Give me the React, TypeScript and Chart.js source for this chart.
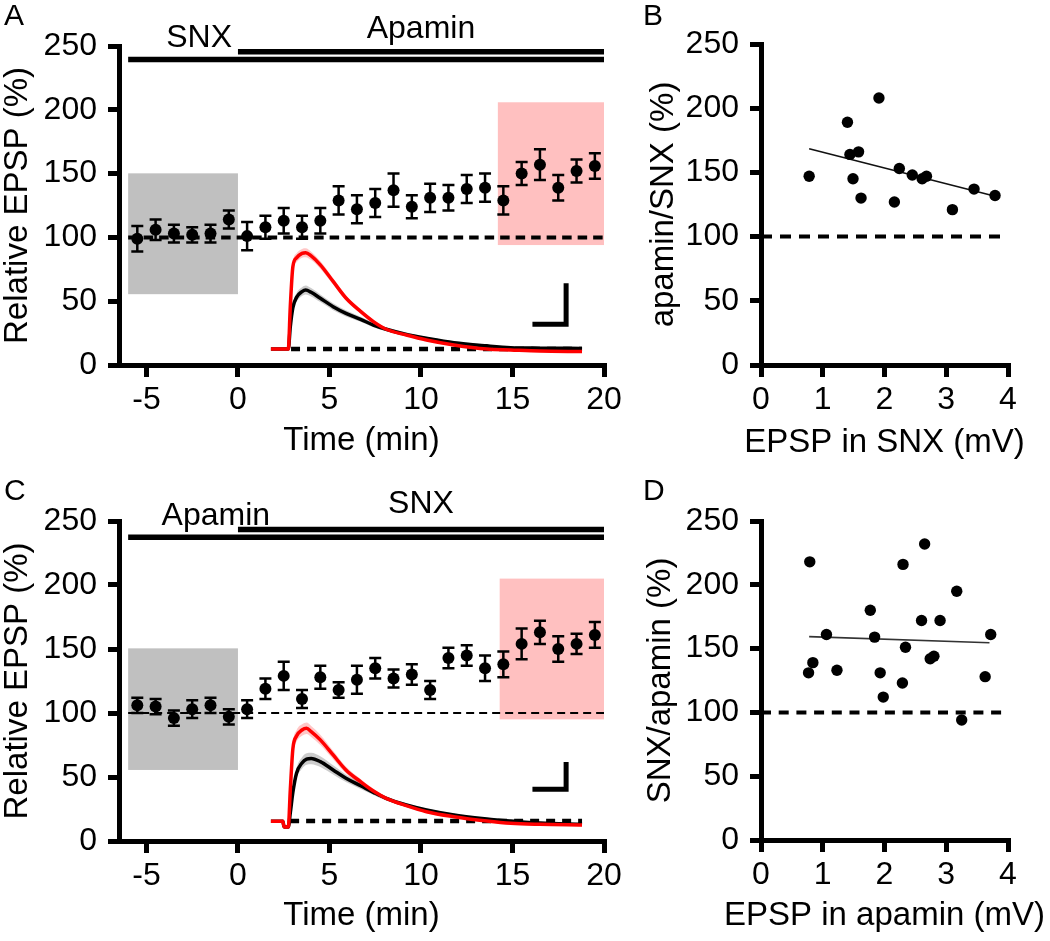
import React, { useEffect, useRef } from "react";
import { Chart, registerables } from "chart.js";

Chart.register(...registerables);

const FONT = "'Liberation Sans', Arial, Helvetica, sans-serif";

// ---------------- Time course (panels A and C) ----------------
const timeBins = [-5.5, -4.5, -3.5, -2.5, -1.5, -0.5, 0.5, 1.5, 2.5, 3.5, 4.5, 5.5, 6.5, 7.5, 8.5, 9.5, 10.5, 11.5, 12.5, 13.5, 14.5, 15.5, 16.5, 17.5, 18.5, 19.5];
const epspA = [99, 106, 103, 102, 103, 114, 101, 108, 113, 108, 113, 129, 122, 127, 137, 124, 131, 131, 138, 139, 129, 150, 157, 139, 152, 156];
const semA = [10, 8, 7, 6, 7, 7, 11, 9, 10, 9, 10, 11, 11, 11, 13, 9, 11, 10, 11, 11, 11, 9, 12, 10, 9, 10];
const epspC = [106, 105, 96, 103, 106, 97, 103, 119, 129, 111, 128, 118, 126, 135, 127, 130, 118, 143, 145, 135, 138, 154, 163, 150, 154, 161];
const semC = [6, 6, 6, 7, 6, 6, 7, 8, 11, 7, 9, 6, 11, 8, 7, 8, 7, 8, 8, 10, 10, 12, 9, 10, 8, 10];

const timeTicks = [-5, 0, 5, 10, 15, 20];
const pctTicks = [0, 50, 100, 150, 200, 250];
const mvTicks = [0, 1, 2, 3, 4];

// Inset EPSP traces (drawn in the time-course axes)
const traceTimeA = [1.8, 2.75, 2.86, 3.0, 3.2, 3.5, 3.7, 4.0, 4.5, 5.2, 5.9, 6.7, 7.4, 8.1, 9.2, 10.3, 11.8, 13.6, 14.9, 16.5, 18.8];
const traceRedA = [12.5, 12.5, 46, 77, 84, 87.5, 88, 85.5, 78.5, 65.5, 52.5, 42, 34, 28, 23.5, 19.6, 15.7, 12.5, 11.8, 11, 10.5];
const traceRedSemA = [0.5, 0.5, 2, 3, 3.5, 3.5, 3.5, 3.3, 3, 2.5, 2, 1.7, 1.5, 1.3, 1.2, 1, 1, 1, 1, 1, 1];
const traceBlackA = [12.5, 12.5, 30, 45, 53, 57.5, 58.8, 57, 52.3, 45.7, 40.5, 35.8, 31.3, 28, 24, 21, 17.5, 15, 13.6, 13.2, 13];
const traceBlackSemA = [0.5, 0.5, 2, 3, 3.5, 3.5, 3.5, 3.3, 3, 2.7, 2.4, 2, 1.8, 1.6, 1.4, 1.2, 1.1, 1, 1, 1, 1];

const traceTimeC = [1.8, 2.45, 2.52, 2.75, 2.86, 3.0, 3.2, 3.5, 3.75, 4.0, 4.5, 5.2, 5.9, 6.7, 7.4, 8.1, 9.2, 10.3, 11.8, 13.6, 14.9, 16.5, 18.8];
const traceRedC = [15.5, 15.5, 11, 11, 40, 72, 82, 86.7, 88, 85.5, 79, 67.2, 55.5, 46.3, 39, 33.3, 27.6, 22.9, 19, 15.6, 13.8, 13, 12.5];
const traceRedSemC = [0.5, 0.5, 0.5, 0.5, 2.5, 4, 4.5, 4.5, 4.5, 4.3, 4, 3.3, 2.7, 2.2, 1.8, 1.5, 1.3, 1.1, 1, 1, 1, 1, 1];
const traceBlackC = [15.5, 15.5, 11, 11, 22, 38, 53, 61, 64, 64.5, 62, 55.5, 49, 43.2, 38, 33.3, 28.1, 24.2, 20.3, 17.2, 15.6, 14, 13];
const traceBlackSemC = [0.5, 0.5, 0.5, 0.5, 2, 3, 4, 4.5, 4.5, 4.5, 4.2, 3.6, 3, 2.5, 2, 1.7, 1.4, 1.2, 1.1, 1, 1, 1, 1];

// ---------------- Scatter (panels B and D) ----------------
const epspInSnx = [0.78, 1.40, 1.44, 1.58, 1.49, 1.62, 1.91, 2.16, 2.24, 2.45, 2.61, 2.68, 3.10, 3.45, 3.79];
const apaminOverSnx = [147, 189, 164, 166, 145, 130, 208, 127, 153, 148, 145, 147, 121, 137, 132];
const fitBx = [0.78, 3.84];
const fitBy = [168.4, 130.8];

const epspInApamin = [0.79, 0.77, 0.84, 1.06, 1.23, 1.77, 1.84, 1.93, 1.98, 2.30, 2.29, 2.34, 2.65, 2.60, 2.74, 2.80, 2.90, 3.17, 3.25, 3.63, 3.72];
const snxOverApamin = [218, 131, 139, 161, 133, 180, 159, 131, 112, 216, 123, 151, 232, 172, 142, 144, 172, 195, 94, 128, 161];
const fitDx = [0.78, 3.70];
const fitDy = [159.4, 154.6];

const refLevel = 100;

type Pt = { x: number; y: number };
const toPts = (xs: number[], ys: number[]): Pt[] => xs.map((x, i) => ({ x, y: ys[i] }));
const offsetPts = (xs: number[], ys: number[], es: number[], sign: number): Pt[] =>
  xs.map((x, i) => ({ x, y: ys[i] + sign * es[i] }));

function makeAxis(o: any) {
  return {
    type: "linear",
    min: o.min,
    max: o.max,
    afterBuildTicks: (s: any) => {
      s.ticks = o.ticks.map((v: number) => ({ value: v }));
    },
    afterFit: (s: any) => {
      if (o.horizontal) s.height = o.size;
      else s.width = o.size;
    },
    grid: {
      display: true,
      drawOnChartArea: false,
      drawTicks: true,
      tickLength: o.tickLength,
      tickWidth: 5,
      tickColor: "#000",
      color: "#000",
      lineWidth: 5,
    },
    border: { display: true, color: "#000", width: 5 },
    ticks: {
      color: "#000",
      font: { family: FONT, size: 32, lineHeight: 1 },
      padding: o.labelPad,
      maxRotation: 0,
      minRotation: 0,
      autoSkip: false,
    },
    title: {
      display: !o.horizontal,
      text: o.title,
      color: "#000",
      font: { family: FONT, size: 33, lineHeight: 1 },
      padding: o.titlePad,
    },
  };
}

// horizontal axis titles are drawn without Chart.js' maxWidth squeeze
function drawXTitle(chart: any, text: string, y: number) {
  const { ctx, chartArea } = chart;
  ctx.save();
  ctx.fillStyle = "#000";
  ctx.font = `33px ${FONT}`;
  ctx.textAlign = "center";
  ctx.textBaseline = "middle";
  ctx.fillText(text, (chartArea.left + chartArea.right) / 2, y);
  ctx.restore();
}

function lineDs(data: Pt[], color: string, width: number, order: number, dash: number[] = [], smooth = false) {
  return {
    data,
    showLine: true,
    borderColor: color,
    backgroundColor: color,
    borderWidth: width,
    borderDash: dash,
    borderCapStyle: "butt",
    borderJoinStyle: "miter",
    pointRadius: 0,
    pointHoverRadius: 0,
    fill: false,
    order,
    cubicInterpolationMode: smooth ? "monotone" : "default",
  };
}

function bandDs(t: number[], v: number[], e: number[], color: string, order: number) {
  return [
    {
      data: offsetPts(t, v, e, 1),
      showLine: true,
      borderColor: "transparent",
      borderWidth: 0,
      pointRadius: 0,
      pointHoverRadius: 0,
      fill: "+1",
      backgroundColor: color,
      order,
      cubicInterpolationMode: "monotone",
    },
    {
      data: offsetPts(t, v, e, -1),
      showLine: true,
      borderColor: "transparent",
      borderWidth: 0,
      pointRadius: 0,
      pointHoverRadius: 0,
      fill: false,
      order,
      cubicInterpolationMode: "monotone",
    },
  ];
}

function timeCourseConfig(s: any) {
  const datasets: any[] = [
    {
      data: toPts(timeBins, s.means),
      showLine: false,
      pointRadius: 6,
      pointHoverRadius: 6,
      pointBackgroundColor: "#000",
      pointBorderWidth: 0,
      order: 0,
    },
    lineDs(toPts(s.traceT, s.red), "#ff0000", 3.5, 1, [], true),
    lineDs(toPts(s.traceT, s.black), "#000", 3.5, 2, [], true),
    lineDs(
      [
        { x: s.scaleBar.x0, y: s.scaleBar.y0 },
        { x: s.scaleBar.x1, y: s.scaleBar.y0 },
        { x: s.scaleBar.x1, y: s.scaleBar.y1 },
      ],
      "#000",
      5,
      3
    ),
    lineDs([{ x: s.baseT[0], y: s.baseY }, { x: s.baseT[1], y: s.baseY }], "#000", 4.5, 4, [9, 7]),
    ...bandDs(s.traceT, s.red, s.redSem, "rgba(255,0,0,0.22)", 5),
    ...bandDs(s.traceT, s.black, s.blackSem, "rgba(0,0,0,0.2)", 6),
    lineDs([{ x: -6, y: refLevel }, { x: 20, y: refLevel }], "#000", s.refWidth, 7, s.refDash),
    lineDs([{ x: -6, y: s.lowerBarY }, { x: 20, y: s.lowerBarY }], "#000", 5.5, 8),
    lineDs([{ x: 0, y: s.upperBarY }, { x: 20, y: s.upperBarY }], "#000", 5.5, 8),
  ];

  const plugin = {
    id: "timecourse-extras",
    beforeDatasetsDraw(chart: any) {
      const { ctx } = chart;
      const xs = chart.scales.x;
      const ys = chart.scales.y;
      ctx.save();
      for (const b of s.boxes) {
        const x1 = xs.getPixelForValue(b.x0);
        const x2 = xs.getPixelForValue(b.x1);
        const y1 = ys.getPixelForValue(b.y1);
        const y2 = ys.getPixelForValue(b.y0);
        ctx.fillStyle = b.color;
        ctx.fillRect(x1, y1, x2 - x1, y2 - y1);
      }
      ctx.restore();
    },
    afterDatasetsDraw(chart: any) {
      const { ctx } = chart;
      const xs = chart.scales.x;
      const ys = chart.scales.y;
      ctx.save();
      ctx.strokeStyle = "#000";
      ctx.lineWidth = 2.5;
      ctx.lineCap = "butt";
      timeBins.forEach((t, i) => {
        const x = xs.getPixelForValue(t);
        const yt = ys.getPixelForValue(s.means[i] + s.sems[i]);
        const yb = ys.getPixelForValue(s.means[i] - s.sems[i]);
        ctx.beginPath();
        ctx.moveTo(x, yt);
        ctx.lineTo(x, yb);
        ctx.moveTo(x - 6, yt);
        ctx.lineTo(x + 6, yt);
        ctx.moveTo(x - 6, yb);
        ctx.lineTo(x + 6, yb);
        ctx.stroke();
      });
      ctx.fillStyle = "#000";
      ctx.font = `32px ${FONT}`;
      ctx.textAlign = "center";
      ctx.textBaseline = "alphabetic";
      for (const l of s.drugLabels) {
        ctx.fillText(l.text, xs.getPixelForValue(l.x), ys.getPixelForValue(l.y));
      }
      ctx.restore();
    },
    afterDraw(chart: any) {
      const { ctx } = chart;
      ctx.save();
      ctx.fillStyle = "#000";
      ctx.font = `30px ${FONT}`;
      ctx.textAlign = "left";
      ctx.textBaseline = "alphabetic";
      ctx.fillText(s.letter, 4, s.letterY);
      ctx.restore();
      drawXTitle(chart, "Time (min)", s.xTitleY);
    },
  };

  return {
    type: "line",
    data: { datasets },
    options: {
      responsive: false,
      animation: false,
      devicePixelRatio: 1,
      events: [],
      layout: { padding: { left: 0, top: s.top, right: s.right, bottom: 0 } },
      plugins: { legend: { display: false }, tooltip: { enabled: false } },
      scales: {
        x: makeAxis({
          min: -6.5,
          max: 20,
          ticks: timeTicks,
          horizontal: true,
          size: s.xHeight,
          tickLength: 12,
          labelPad: 7,
          title: "Time (min)",
          titlePad: 0,
        }),
        y: makeAxis({
          min: 0,
          max: 250,
          ticks: pctTicks,
          horizontal: false,
          size: 119,
          tickLength: 11,
          labelPad: 11,
          title: "Relative EPSP (%)",
          titlePad: { top: 1, bottom: 0 },
        }),
      },
    },
    plugins: [plugin],
  };
}

function scatterConfig(s: any) {
  const datasets: any[] = [
    {
      data: toPts(s.xs, s.ys),
      showLine: false,
      pointRadius: 5.7,
      pointHoverRadius: 5.7,
      pointBackgroundColor: "#000",
      pointBorderWidth: 0,
      order: 0,
    },
    lineDs(toPts(s.fitX, s.fitY), s.fitColor, 1.6, 1),
    lineDs([{ x: 0, y: refLevel }, { x: 4, y: refLevel }], "#000", 4, 2, s.refDash),
  ];
  const plugin = {
    id: "scatter-extras",
    afterDraw(chart: any) {
      const { ctx } = chart;
      ctx.save();
      ctx.fillStyle = "#000";
      ctx.font = `30px ${FONT}`;
      ctx.textAlign = "left";
      ctx.textBaseline = "alphabetic";
      ctx.fillText(s.letter, 3, s.letterY);
      ctx.restore();
      drawXTitle(chart, s.xTitle, s.xTitleY);
    },
  };
  return {
    type: "line",
    data: { datasets },
    options: {
      responsive: false,
      animation: false,
      devicePixelRatio: 1,
      events: [],
      layout: { padding: { left: 0, top: s.top, right: s.right, bottom: 0 } },
      plugins: { legend: { display: false }, tooltip: { enabled: false } },
      scales: {
        x: makeAxis({
          min: 0,
          max: 4,
          ticks: mvTicks,
          horizontal: true,
          size: s.xHeight,
          tickLength: 12,
          labelPad: 7,
          title: s.xTitle,
          titlePad: 0,
        }),
        y: makeAxis({
          min: 0,
          max: 250,
          ticks: pctTicks,
          horizontal: false,
          size: 121,
          tickLength: 11,
          labelPad: 11,
          title: s.yTitle,
          titlePad: { top: s.yTitlePad, bottom: 0 },
        }),
      },
    },
    plugins: [plugin],
  };
}

const GRAY = "rgb(192,192,192)";
const PINK = "rgb(255,192,192)";

const specA = {
  letter: "A",
  letterY: 25,
  means: epspA,
  sems: semA,
  traceT: traceTimeA,
  red: traceRedA,
  redSem: traceRedSemA,
  black: traceBlackA,
  blackSem: traceBlackSemA,
  baseT: [2.9, 18.8],
  baseY: 12.5,
  scaleBar: { x0: 16.09, x1: 17.93, y0: 32, y1: 64 },
  refDash: [9.5, 6],
  refWidth: 4,
  lowerBarY: 239.4,
  upperBarY: 245.5,
  boxes: [
    { x0: -6, x1: 0, y0: 55.5, y1: 150.2, color: GRAY },
    { x0: 14.2, x1: 20, y0: 94, y1: 205.9, color: PINK },
  ],
  drugLabels: [
    { text: "SNX", x: -2.12, y: 249.5 },
    { text: "Apamin", x: 10, y: 256.5 },
  ],
  top: 46,
  right: 36,
  xHeight: 105,
  xTitleY: 441,
};

const specC = {
  letter: "C",
  letterY: 30,
  means: epspC,
  sems: semC,
  traceT: traceTimeC,
  red: traceRedC,
  redSem: traceRedSemC,
  black: traceBlackC,
  blackSem: traceBlackSemC,
  baseT: [2.85, 18.8],
  baseY: 15.6,
  scaleBar: { x0: 16.09, x1: 17.93, y0: 40.4, y1: 61.7 },
  refDash: [8, 5],
  refWidth: 1.8,
  lowerBarY: 237.3,
  upperBarY: 243.4,
  boxes: [
    { x0: -6, x1: 0, y0: 55.5, y1: 150.5, color: GRAY },
    { x0: 14.3, x1: 20, y0: 95, y1: 205, color: PINK },
  ],
  drugLabels: [
    { text: "Apamin", x: -1.21, y: 246.9 },
    { text: "SNX", x: 10, y: 256.3 },
  ],
  top: 51,
  right: 36,
  xHeight: 100,
  xTitleY: 446,
};

const specB = {
  letter: "B",
  letterY: 25,
  xs: epspInSnx,
  ys: apaminOverSnx,
  fitX: fitBx,
  fitY: fitBy,
  fitColor: "#111",
  refDash: [11, 8],
  xTitle: "EPSP in SNX (mV)",
  yTitle: "apamin/SNX (%)",
  yTitlePad: 7,
  top: 44,
  right: 42,
  xHeight: 105,
  xTitleY: 443,
};

const specD = {
  letter: "D",
  letterY: 30,
  xs: epspInApamin,
  ys: snxOverApamin,
  fitX: fitDx,
  fitY: fitDy,
  fitColor: "#333",
  refDash: [10, 7.7],
  xTitle: "EPSP in apamin (mV)",
  yTitle: "SNX/apamin (%)",
  yTitlePad: 4,
  top: 51,
  right: 42,
  xHeight: 101,
  xTitleY: 446,
};

function ChartCanvas(props: { left: number; top: number; width: number; height: number; make: () => any }) {
  const ref = useRef<HTMLCanvasElement>(null);
  useEffect(() => {
    const chart = new Chart(ref.current as HTMLCanvasElement, props.make());
    return () => chart.destroy();
  }, []);
  return (
    <canvas
      ref={ref}
      width={props.width}
      height={props.height}
      style={{ position: "absolute", left: props.left, top: props.top, width: props.width, height: props.height }}
    />
  );
}

export default function App() {
  return (
    <div style={{ position: "fixed", left: 0, top: 0, width: 1050, height: 941, background: "#fff", overflow: "hidden" }}>
      <ChartCanvas left={0} top={0} width={640} height={470} make={() => timeCourseConfig(specA)} />
      <ChartCanvas left={640} top={0} width={410} height={470} make={() => scatterConfig(specB)} />
      <ChartCanvas left={0} top={470} width={640} height={471} make={() => timeCourseConfig(specC)} />
      <ChartCanvas left={640} top={470} width={410} height={471} make={() => scatterConfig(specD)} />
    </div>
  );
}
